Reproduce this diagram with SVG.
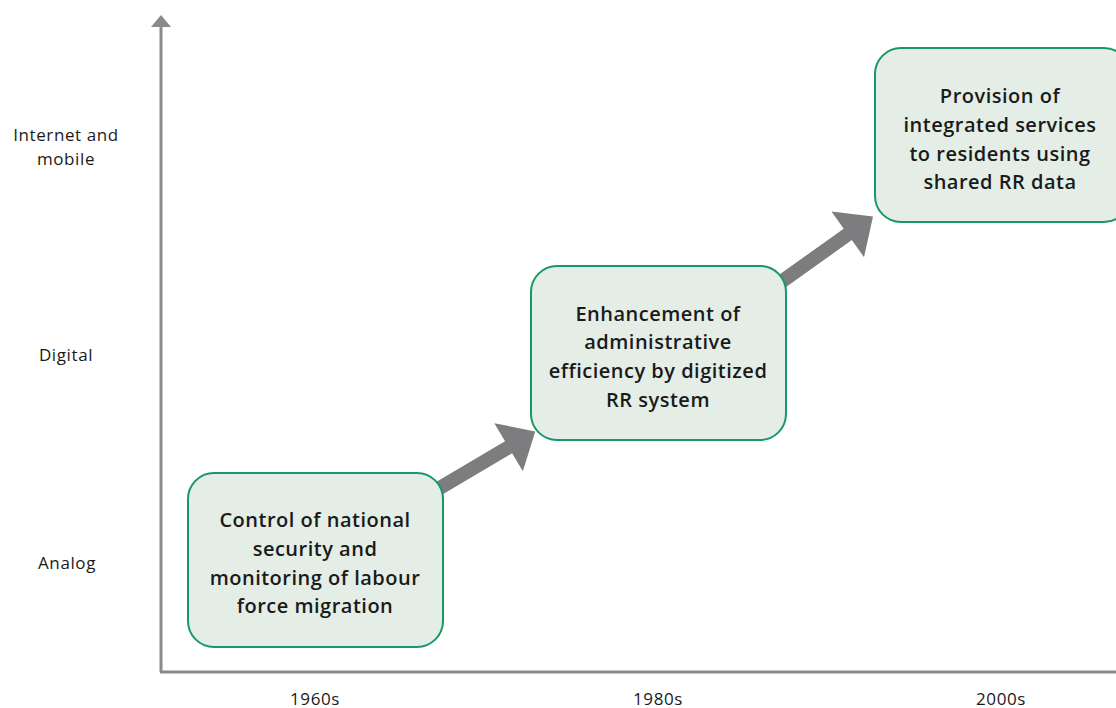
<svg xmlns="http://www.w3.org/2000/svg" width="1116" height="708" viewBox="0 0 1116 708">
<style>
.box{fill:#e4eee6;stroke:#17976b;stroke-width:2}
.t{font-family:"Open Sans","Liberation Sans",sans-serif;font-weight:600;font-size:20px;letter-spacing:0.5px;fill:#1a1a1a;text-anchor:middle;dominant-baseline:central}
.l{font-family:"Open Sans","Liberation Sans",sans-serif;font-size:17px;letter-spacing:0.6px;fill:#1a1a1a;text-anchor:middle;dominant-baseline:central}
.ax{stroke:#8a8a8c;stroke-width:3;fill:none}
.arr{fill:#7d7d80}
</style>
<defs>
<polygon id="arrowShape" points="0,-7 82,-7 82,-28 113,0 82,28 82,7 0,7"/>
</defs>
<rect width="1116" height="708" fill="#ffffff"/>
<g id="axes">
<line class="ax" x1="161" y1="24" x2="161" y2="672"/>
<line class="ax" x1="160" y1="672" x2="1116" y2="672"/>
<polygon points="161,15 151,27 171,27" fill="#8a8a8c"/>
</g>
<g id="y-labels">
<text class="l" x="66" y="134">Internet and</text>
<text class="l" x="66" y="158">mobile</text>
<text class="l" x="66" y="354">Digital</text>
<text class="l" x="67" y="562">Analog</text>
</g>
<g id="x-labels">
<text class="l" x="315" y="698">1960s</text>
<text class="l" x="658" y="698">1980s</text>
<text class="l" x="1001" y="698">2000s</text>
</g>
<g id="connectors">
<use href="#arrowShape" class="arr" transform="translate(438,489) rotate(-30.6)"/>
<use href="#arrowShape" class="arr" transform="translate(781,282) rotate(-35.5)"/>
</g>
<g id="node-1960s">
<rect class="box" x="188" y="473" width="255" height="174" rx="26"/>
<text class="t" x="315" y="519">Control of national</text>
<text class="t" x="315" y="548">security and</text>
<text class="t" x="315" y="577">monitoring of labour</text>
<text class="t" x="315" y="605">force migration</text>
</g>
<g id="node-1980s">
<rect class="box" x="531" y="266" width="255" height="174" rx="26"/>
<text class="t" x="658" y="313">Enhancement of</text>
<text class="t" x="658" y="341">administrative</text>
<text class="t" x="658" y="370">efficiency by digitized</text>
<text class="t" x="658" y="399">RR system</text>
</g>
<g id="node-2000s">
<rect class="box" x="875" y="48" width="255" height="174" rx="26"/>
<text class="t" x="1000" y="95">Provision of</text>
<text class="t" x="1000" y="124">integrated services</text>
<text class="t" x="1000" y="153">to residents using</text>
<text class="t" x="1000" y="181">shared RR data</text>
</g>
</svg>
